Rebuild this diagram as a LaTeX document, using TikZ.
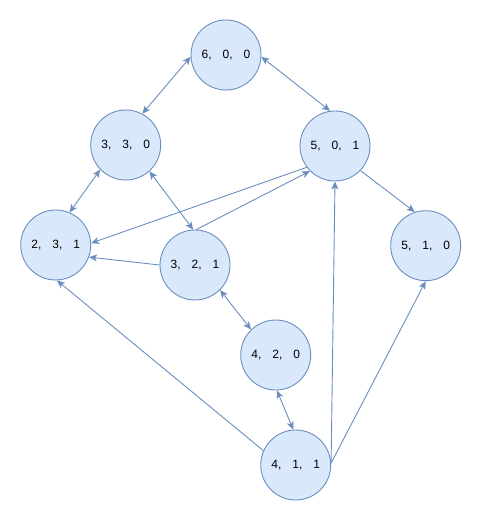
\documentclass[tikz,border=0pt]{standalone}
\usepackage{fontspec}
\setmainfont{Liberation Sans}
\usetikzlibrary{arrows.meta}
\definecolor{nodefill}{HTML}{DAE8FC}
\definecolor{nodeline}{HTML}{6C8EBF}
\newcommand{\gp}{\hspace{11pt}}
\begin{document}
\begin{tikzpicture}[x=1pt,y=-1pt,
  state/.style={circle,draw=nodeline,fill=nodefill,line width=0.9pt,minimum size=70pt,inner sep=0pt,font=\fontsize{12}{14}\selectfont},
  link/.style={draw=nodeline,line width=0.9pt,-{Stealth[length=8pt,width=7pt,inset=2pt]}},
  both/.style={draw=nodeline,line width=0.9pt,{Stealth[length=8pt,width=7pt,inset=2pt]}-{Stealth[length=8pt,width=7pt,inset=2pt]}}]
\useasboundingbox (0,0) rectangle (481,521);
\node[state] (n600) at (226,55) {6,\gp 0,\gp 0};
\node[state] (n330) at (125.7,145) {3,\gp 3,\gp 0};
\node[state] (n501) at (335,146) {5,\gp 0,\gp 1};
\node[state] (n231) at (55.7,245) {2,\gp 3,\gp 1};
\node[state] (n321) at (195,265) {3,\gp 2,\gp 1};
\node[state] (n510) at (425.7,245.7) {5,\gp 1,\gp 0};
\node[state] (n420) at (275.7,355) {4,\gp 2,\gp 0};
\node[state] (n411) at (295.7,465) {4,\gp 1,\gp 1};
\draw[both] (n600.183) -- (n330.62);
\draw[both] (n600.357) -- (n501.98);
\draw[both] (n330.224) -- (n231.67);
\draw[both] (n330.312) -- (n321.93);
\draw[link] (n321.88) -- (n501.225);
\draw[link] (n501.217) -- (n231.3);
\draw[link] (n321.180) -- (n231.340);
\draw[link] (n411.156) -- (n231.272);
\draw[link] (n411.3) -- (n501.270);
\draw[link] (n411.3) -- (n510.270);
\draw[link] (n501.316) -- (n510.108);
\draw[both] (n321.315) -- (n420.134);
\draw[both] (n420.272) -- (n411.94);
\end{tikzpicture}
\end{document}
